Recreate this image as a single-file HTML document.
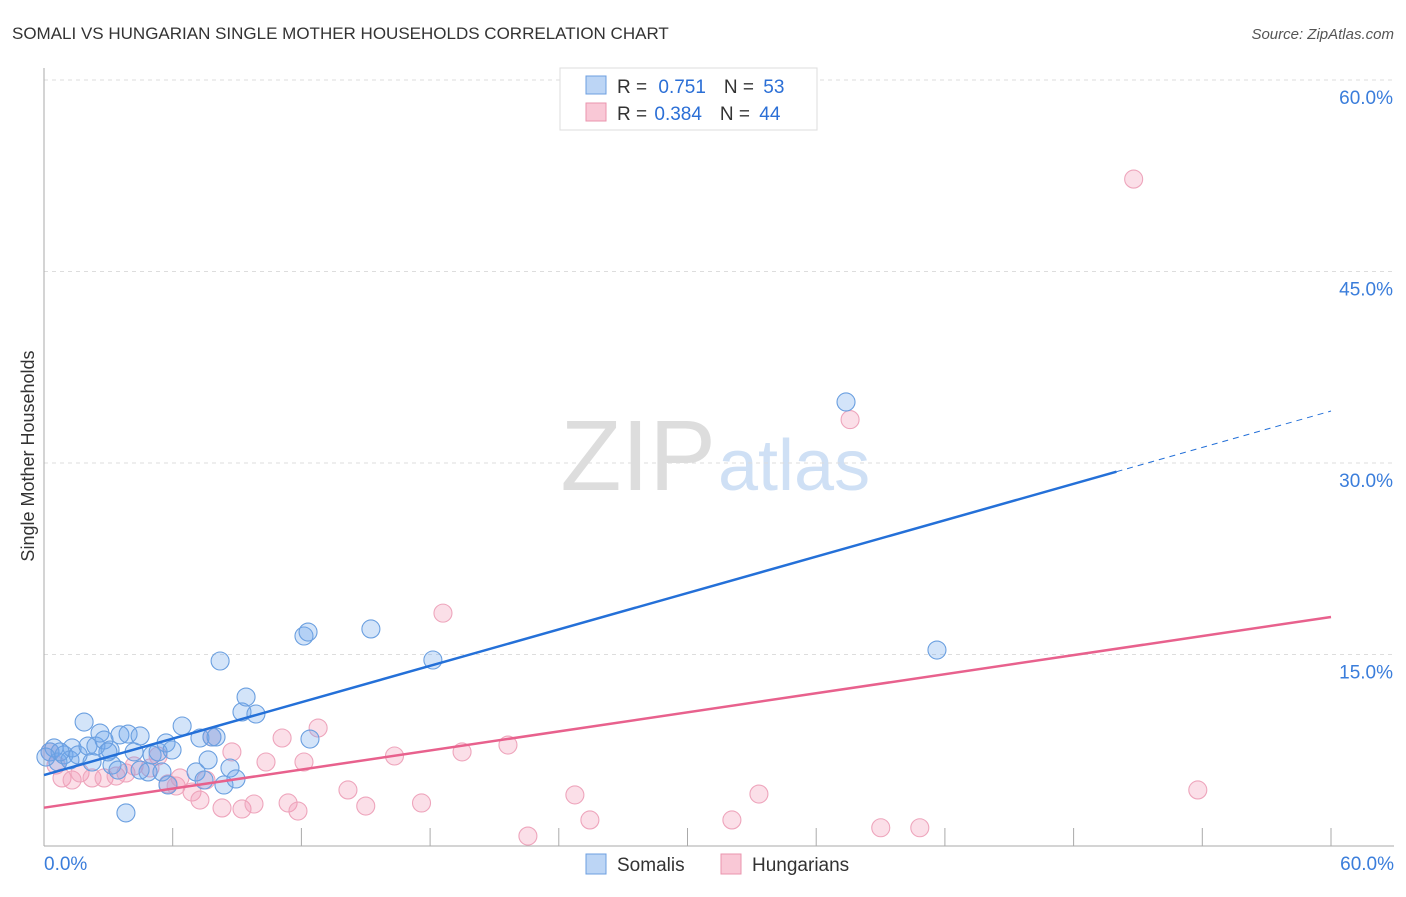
<!DOCTYPE html>
<html><head><meta charset="utf-8"><style>
body{margin:0;background:#fff;font-family:"Liberation Sans",sans-serif}
svg text{font-family:"Liberation Sans",sans-serif}
</style></head><body>
<svg id="chart" width="1406" height="892" xmlns="http://www.w3.org/2000/svg">
<text x="12" y="39" font-size="17" fill="#333">SOMALI VS HUNGARIAN SINGLE MOTHER HOUSEHOLDS CORRELATION CHART</text>
<text x="1394" y="39" font-size="15" fill="#555" text-anchor="end" font-style="italic">Source: ZipAtlas.com</text>
<text x="34" y="456" font-size="18" fill="#333" text-anchor="middle" transform="rotate(-90 34 456)">Single Mother Households</text>
<text x="716" y="490" font-size="100" fill="#ddd" text-anchor="end" font-family="Liberation Serif">ZIP</text>
<text x="718" y="490" font-size="72" fill="#cfe0f5">atlas</text>
<g id="grid"></g>
<g id="axes"></g>
<g id="pts"></g>
<g id="lines"></g>
<g>
<rect x="560" y="68" width="257" height="62" fill="#fff" stroke="#ddd"/>
<rect x="586" y="76" width="20" height="18" fill="#bcd5f5" stroke="#6c9fe0"/>
<rect x="586" y="103" width="20" height="18" fill="#f9c8d6" stroke="#ea94ae"/>
<text x="617" y="93" font-size="19" fill="#333">R = <tspan fill="#2b6fd6" dx="6">0.751</tspan><tspan dx="18" fill="#333">N = </tspan><tspan fill="#2b6fd6" dx="4">53</tspan></text>
<text x="617" y="120" font-size="19" fill="#333">R = <tspan fill="#2b6fd6" dx="2">0.384</tspan><tspan dx="18" fill="#333">N = </tspan><tspan fill="#2b6fd6" dx="4">44</tspan></text>
</g>
<g>
<rect x="586" y="854" width="20" height="20" fill="#bcd5f5" stroke="#6c9fe0"/>
<text x="617" y="871" font-size="19" fill="#333">Somalis</text>
<rect x="721" y="854" width="20" height="20" fill="#f9c8d6" stroke="#ea94ae"/>
<text x="752" y="871" font-size="19" fill="#333">Hungarians</text>
</g>
</svg>
<script>
const yTicks=[15,30,45,60];
const xTickLabels=["0.0%","60.0%"];
const somaliX=[0.28,0.47,0.65,0.93,1.21,1.31,1.59,1.87,2.05,2.24,2.42,2.61,2.8,3.08,3.17,3.45,3.54,3.82,3.92,4.2,4.48,4.85,5.04,5.32,5.5,5.69,5.78,5.97,6.44,7.09,7.27,7.46,7.65,7.83,8.02,8.21,8.39,8.67,8.95,9.23,9.42,9.88,12.12,12.31,12.4,15.24,18.13,37.39,41.63,4.48,0.75,0.09,2.98];
const somaliY=[7.37,7.68,6.58,7.13,6.74,7.68,7.13,9.71,7.83,6.58,7.83,8.85,8.3,7.52,6.34,5.95,8.7,2.59,8.77,7.37,8.62,5.8,7.13,7.37,5.8,8.07,4.78,7.52,9.4,5.8,8.46,5.17,6.74,8.54,8.54,14.49,4.78,6.11,5.25,10.5,11.67,10.34,16.45,16.76,8.38,17.0,14.57,34.78,15.35,5.95,7.37,6.97,7.37];
const hungX=[0.28,0.56,0.84,1.31,1.68,2.24,2.8,3.36,3.82,4.2,4.94,5.32,5.78,6.16,6.34,6.9,7.27,7.55,7.83,8.3,8.76,9.23,9.79,10.35,11.1,11.38,11.84,12.12,12.78,14.17,15.0,16.34,17.6,18.6,19.49,21.63,22.56,24.75,25.45,32.07,33.33,39.01,40.83,50.8,53.79,37.58];
const hungY=[7.37,6.34,5.33,5.17,5.72,5.33,5.33,5.48,5.72,6.27,6.11,7.05,4.86,4.7,5.33,4.23,3.6,5.17,8.54,2.98,7.37,2.9,3.29,6.58,8.46,3.37,2.74,6.58,9.24,4.39,3.13,7.05,3.37,18.24,7.37,7.91,0.78,4.0,2.04,2.04,4.07,1.43,1.43,52.24,4.39,33.4];
const blueLine=[5.56,34.07], pinkLine=[3.0,17.94];
const NS="http://www.w3.org/2000/svg";
const X=v=>44+v/60*1287, Y=v=>846-v/15*191.5;
function el(t,a,p){const e=document.createElementNS(NS,t);for(const k in a)e.setAttribute(k,a[k]);p.appendChild(e);return e;}
const grid=document.getElementById('grid'),axes=document.getElementById('axes'),pts=document.getElementById('pts'),lines=document.getElementById('lines');
yTicks.forEach(t=>{const l=el('line',{x1:44,x2:1394,y1:Y(t),y2:Y(t),stroke:'#ddd','stroke-dasharray':'4 4'},grid);


const tx=el('text',{x:1393,y:Y(t)+24,'font-size':19,fill:'#3a7ddb','text-anchor':'end'},grid);tx.textContent=t.toFixed(1)+'%';

});
el('line',{x1:44,x2:44,y1:68,y2:846,stroke:'#aaa'},axes);
el('line',{x1:44,x2:1394,y1:846,y2:846,stroke:'#aaa'},axes);
for(let i=0;i<=10;i++){el('line',{x1:X(i*6),x2:X(i*6),y1:828,y2:846,stroke:'#aaa'},axes);}
[[0,'start',44],[1,'end',1394]].forEach(([i,a,x])=>{const t=el('text',{x:x,y:870,'font-size':19,fill:'#3a7ddb','text-anchor':a},axes);t.textContent=xTickLabels[i];

});
hungX.forEach((v,i)=>{const c=el('circle',{cx:X(v),cy:Y(hungY[i]),r:9,fill:'rgba(242,150,180,0.3)',stroke:'#eea5bc','stroke-width':1.1},pts);

});
somaliX.forEach((v,i)=>{const c=el('circle',{cx:X(v),cy:Y(somaliY[i]),r:9,fill:'rgba(110,165,235,0.3)',stroke:'#6a9fe0','stroke-width':1.1},pts);

});
const bAt=x=>blueLine[0]+(blueLine[1]-blueLine[0])*x/60;
let l1=el('line',{x1:X(0),y1:Y(bAt(0)),x2:X(50),y2:Y(bAt(50)),stroke:'#2470d8','stroke-width':2.5},lines);


let l2=el('line',{x1:X(50),y1:Y(bAt(50)),x2:X(60),y2:Y(bAt(60)),stroke:'#2470d8','stroke-width':1,'stroke-dasharray':'6 5'},lines);


let l3=el('line',{x1:X(0),y1:Y(pinkLine[0]),x2:X(60),y2:Y(pinkLine[1]),stroke:'#e8618d','stroke-width':2.5},lines);


</script>
</body></html>
